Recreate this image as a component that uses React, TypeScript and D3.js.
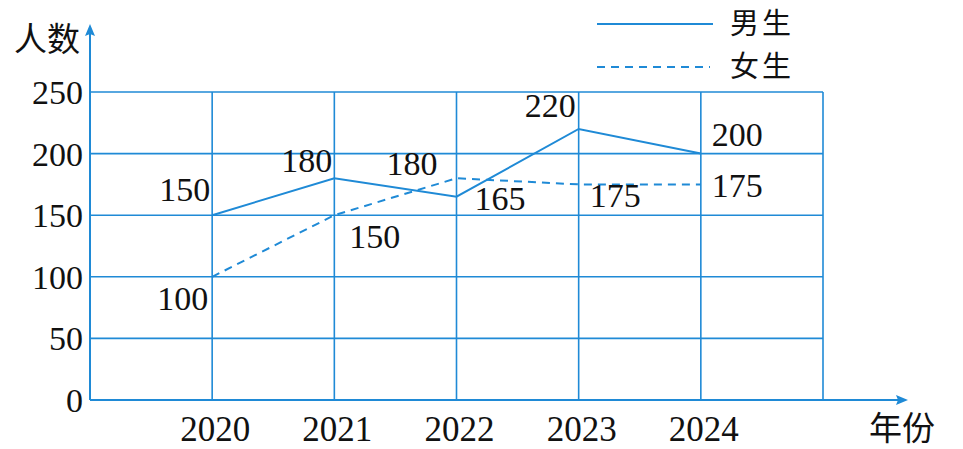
import React from "react";
import * as d3 from "d3";

const years = [2020, 2021, 2022, 2023, 2024];
const boys = [150, 180, 165, 220, 200];
const girls = [100, 150, 180, 175, 175];
const yTicks = [0, 50, 100, 150, 200, 250];
const seriesNames = ["男生", "女生"];
const yTitle = "人数";
const xTitle = "年份";

// label offsets [dx, dy, anchor]
const boyLabelPos: [number, number, string][] = [
  [-2, -26, "end"],
  [-2, -18, "end"],
  [18, 1, "start"],
  [-3, -24, "end"],
  [11, -20, "start"],
];
const girlLabelPos: [number, number, string][] = [
  [-4, 21, "end"],
  [15, 21, "start"],
  [-19, -15, "end"],
  [11, 11, "start"],
  [11, 1, "start"],
];

const BLUE = "#1f8ad6";

export default function App() {
  const W = 963, H = 449;
  const x = d3.scaleLinear().domain([2019, 2025]).range([90, 823]);
  const y = d3.scaleLinear().domain([0, 250]).range([400, 92]);
  const line = d3
    .line<number>()
    .x((_, i) => x(years[i]))
    .y((d) => y(d));
  const gridX = d3.range(2020, 2026);
  const numStyle = { fontFamily: "'Liberation Serif', 'DejaVu Serif', serif", fontSize: 34 };
  const yearStyle = { fontFamily: "'Liberation Serif', 'DejaVu Serif', serif", fontSize: 35 };
  const cjkStyle = { fontFamily: "'Noto Sans CJK SC', sans-serif", fontSize: 33 };
  const legStyle = { fontFamily: "'Noto Sans CJK SC', sans-serif", fontSize: 29, letterSpacing: 3 };

  return (
    <svg width={W} height={H} style={{ position: "absolute", left: 0, top: 0, background: "#fff" }}>
      {yTicks.slice(1).map((t) => (
        <line key={"h" + t} x1={x(2019)} x2={x(2025)} y1={y(t)} y2={y(t)} stroke={BLUE} strokeWidth={1.6} />
      ))}
      {gridX.map((g) => (
        <line key={"v" + g} x1={x(g)} x2={x(g)} y1={y(0)} y2={y(250)} stroke={BLUE} strokeWidth={1.6} />
      ))}
      <line x1={x(2019)} x2={902} y1={y(0)} y2={y(0)} stroke={BLUE} strokeWidth={2} />
      <path d={`M908,${y(0)} L896,${y(0) - 5} L898,${y(0)} L896,${y(0) + 5} Z`} fill={BLUE} />
      <line x1={x(2019)} x2={x(2019)} y1={y(0)} y2={30} stroke={BLUE} strokeWidth={2} />
      <path d={`M${x(2019)},24 L${x(2019) - 5},36 L${x(2019)},34 L${x(2019) + 5},36 Z`} fill={BLUE} />

      {yTicks.map((t) => (
        <text key={"yt" + t} x={83} y={y(t)} dy="0.35em" textAnchor="end" style={numStyle} fill="#111">
          {t}
        </text>
      ))}
      {years.map((yr) => (
        <text key={"xt" + yr} x={x(yr) + 3} y={429} dy="0.35em" textAnchor="middle" style={yearStyle} fill="#111">
          {yr}
        </text>
      ))}
      <text x={14} y={39} dy="0.35em" style={cjkStyle} fill="#111">{yTitle}</text>
      <text x={869} y={428} dy="0.35em" style={cjkStyle} fill="#111">{xTitle}</text>

      <path d={line(boys) || ""} fill="none" stroke={BLUE} strokeWidth={2} />
      <path d={line(girls) || ""} fill="none" stroke={BLUE} strokeWidth={2} strokeDasharray="8,6" />

      {boys.map((v, i) => (
        <text key={"bl" + i} x={x(years[i]) + boyLabelPos[i][0]} y={y(v) + boyLabelPos[i][1]} dy="0.35em"
          textAnchor={boyLabelPos[i][2] as any} style={numStyle} fill="#111">
          {v}
        </text>
      ))}
      {girls.map((v, i) => (
        <text key={"gl" + i} x={x(years[i]) + girlLabelPos[i][0]} y={y(v) + girlLabelPos[i][1]} dy="0.35em"
          textAnchor={girlLabelPos[i][2] as any} style={numStyle} fill="#111">
          {v}
        </text>
      ))}

      <line x1={597} x2={713} y1={24} y2={24} stroke={BLUE} strokeWidth={2} />
      <text x={730} y={24} dy="0.35em" style={legStyle} fill="#111">{seriesNames[0]}</text>
      <line x1={597} x2={710} y1={67} y2={67} stroke={BLUE} strokeWidth={2} strokeDasharray="8,6" />
      <text x={730} y={67} dy="0.35em" style={legStyle} fill="#111">{seriesNames[1]}</text>
    </svg>
  );
}
